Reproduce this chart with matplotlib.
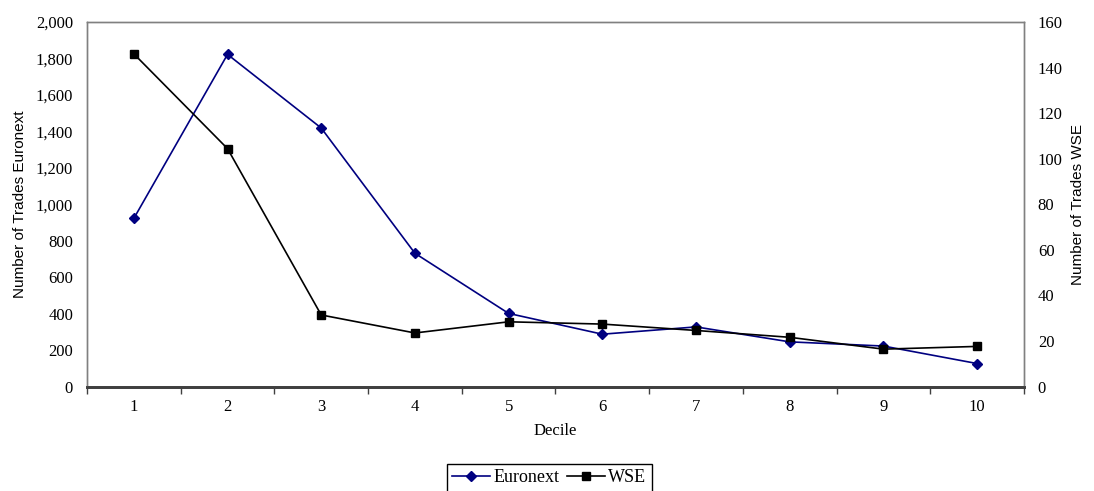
import numpy as np
import matplotlib as mpl
mpl.use('Agg')
import matplotlib.pyplot as plt
from matplotlib.ticker import FuncFormatter, FixedLocator

# data
deciles = [1, 2, 3, 4, 5, 6, 7, 8, 9, 10]
euronext = [922, 1822, 1418, 731, 401, 287, 327, 245, 222, 126]
wse = [146, 104.4, 31.4, 23.5, 28.4, 27.4, 24.6, 21.6, 16.4, 17.6]

serif = 'Liberation Serif'
sans = 'Liberation Sans'

fig = plt.figure(figsize=(10.94, 4.91), dpi=100)
ax = fig.add_axes([0.0795, 0.2128, 0.8565, 0.7425])
ax2 = ax.twinx()

ax.plot(deciles, euronext, color='#000080', lw=1.2, marker='D', ms=5,
        label='Euronext', zorder=3)
ax2.plot(deciles, wse, color='black', lw=1.2, marker='s', ms=5.5,
         label='WSE', zorder=3)

ax.set_xlim(0.5, 10.5)
ax.set_ylim(0, 2000)
ax2.set_ylim(0, 160)
ax.set_yticks(np.arange(0, 2001, 200))
ax2.set_yticks(np.arange(0, 161, 20))
ax.yaxis.set_major_formatter(FuncFormatter(lambda v, p: '{:,.0f}'.format(v)))

ax.set_xticks(deciles)
ax.xaxis.set_minor_locator(FixedLocator(np.arange(0.5, 10.6, 1)))
ax.tick_params(axis='x', which='major', length=0, pad=9, labelsize=12)
ax.tick_params(axis='x', which='minor', length=5, width=1, color='#404040',
               direction='out')
ax.tick_params(axis='y', length=0, pad=10, labelsize=12)
ax2.tick_params(axis='y', length=0, pad=10, labelsize=12)
for lab in ax.get_xticklabels() + ax.get_yticklabels() + ax2.get_yticklabels():
    lab.set_fontfamily(serif)

for a in (ax, ax2):
    for s in ('left', 'right', 'top'):
        a.spines[s].set_color('#808080')
        a.spines[s].set_linewidth(1)
    a.spines['bottom'].set_color('#404040')
    a.spines['bottom'].set_linewidth(2)

ax.set_xlabel('Decile', fontfamily=serif, fontsize=12, labelpad=6)
ax.set_ylabel('Number of Trades Euronext', fontfamily=sans, fontsize=11,
              labelpad=6)
ax2.set_ylabel('Number of Trades WSE', fontfamily=sans, fontsize=11,
               labelpad=6)

h1, l1 = ax.get_legend_handles_labels()
h2, l2 = ax2.get_legend_handles_labels()
leg = fig.legend(h1 + h2, l1 + l2, loc='upper center',
                 bbox_to_anchor=(0.502, 0.055), ncol=2, frameon=True,
                 fancybox=False, edgecolor='black', framealpha=1,
                 prop={'family': serif, 'size': 13}, handlelength=2.1,
                 handletextpad=0.2, columnspacing=0.4, borderpad=0.3,
                 borderaxespad=0)
leg.get_frame().set_linewidth(1)

fig.savefig('out.png', dpi=100)
